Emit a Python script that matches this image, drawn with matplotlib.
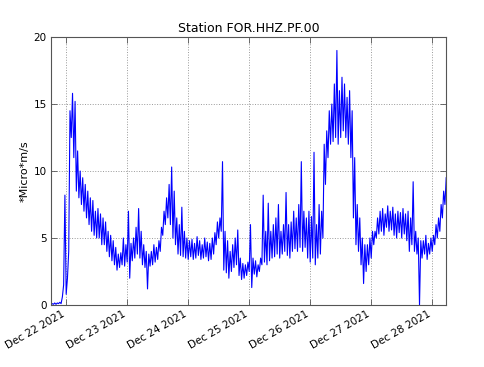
# ════════════════════════════════════════════════════════════
# Station FOR.HHZ.PF.00 — ground velocity noise, Dec 21-28 2021
# ════════════════════════════════════════════════════════════

import datetime as dt
import numpy as np
import matplotlib
matplotlib.use("Agg")
import matplotlib.pyplot as plt
import matplotlib.dates as mdates

# ────────────────────────────────────────────────────────────
# DATA (hourly low / high envelope)
# ────────────────────────────────────────────────────────────

START = dt.datetime(2021, 12, 22, 0, 0)
FIRST_HOUR = -6          # hours relative to Dec 22 00:00

lo = [
    0.0, 0.05, 0.05, 0.1, 0.1, 1.5,                                   # -6 .. -1
    0.8, 4.0, 12.5, 11.0, 8.5, 8.0, 7.5, 7.0, 6.5, 6.0, 5.5, 5.2,     # 0 .. 11
    5.0, 5.0, 4.5, 4.5, 4.0, 3.6, 3.3, 3.0, 2.6, 2.8, 3.0, 2.9,       # 12 .. 23
    3.2, 2.0, 3.3, 3.5, 3.8, 3.5, 3.0, 2.8, 1.2, 2.9, 3.0, 3.2,       # 24 .. 35
    3.4, 4.0, 5.2, 6.0, 6.5, 6.0, 5.0, 4.5, 3.8, 3.7, 3.6, 3.5,       # 36 .. 47
    3.4, 3.6, 3.4, 3.5, 3.7, 3.4, 3.5, 3.6, 3.3, 3.4, 3.8, 4.5,       # 48 .. 59
    5.0, 5.5, 2.6, 2.4, 2.0, 2.5, 2.8, 3.0, 2.2, 1.9, 2.0, 2.2,       # 60 .. 71
    2.5, 1.3, 2.3, 2.1, 2.5, 3.0, 3.2, 3.0, 3.3, 3.5, 3.6, 3.8,       # 72 .. 83
    3.5, 3.8, 4.0, 3.7, 3.5, 4.0, 4.2, 4.0, 4.3, 4.0, 4.3, 3.5,       # 84 .. 95
    3.2, 3.5, 3.0, 3.5, 3.8, 5.0, 9.0, 11.0, 12.0, 12.2, 12.5, 12.0,  # 96 .. 107
    12.5, 13.0, 12.5, 12.0, 11.0, 6.5, 4.5, 4.0, 3.0, 1.6, 2.5, 3.0,  # 108 .. 119
    3.5, 4.5, 5.0, 5.3, 5.5, 5.2, 5.8, 5.5, 5.6, 5.2, 5.0, 5.4,       # 120 .. 131
    5.0, 5.3, 4.8, 4.0, 4.5, 4.0, 3.8, 0.0, 3.5, 3.8, 3.4, 3.8,       # 132 .. 143
    4.0, 4.5, 5.0, 5.5, 6.5, 7.5,                                     # 144 .. 149
]

hi = [
    0.1, 0.15, 0.15, 0.2, 0.6, 8.2,
    2.0, 14.5, 15.8, 15.2, 11.5, 10.0, 9.5, 9.0, 8.5, 8.0, 7.8, 7.0,
    7.2, 6.8, 6.5, 6.2, 5.5, 5.2, 4.8, 4.3, 3.8, 3.9, 5.0, 4.5,
    7.0, 4.6, 5.0, 5.8, 7.2, 5.5, 4.5, 4.0, 3.8, 4.0, 4.5, 4.3,
    4.8, 5.8, 7.0, 8.0, 9.0, 10.3, 8.5, 6.5, 6.0, 7.3, 5.5, 5.0,
    4.8, 4.9, 4.6, 5.1, 4.8, 4.5, 5.0, 4.7, 4.6, 5.0, 5.4, 6.2,
    6.5, 10.7, 5.5, 4.8, 4.0, 4.5, 5.0, 5.6, 3.5, 3.1, 3.0, 3.2,
    6.0, 3.5, 3.3, 3.0, 3.5, 8.2, 5.5, 7.6, 5.5, 6.0, 6.5, 7.5,
    5.5, 6.0, 8.4, 6.0, 6.2, 7.0, 6.5, 7.5, 10.7, 7.0, 6.5, 7.0,
    6.6, 11.4, 6.0, 7.5, 7.0, 12.0, 13.0, 14.5, 15.0, 16.5, 19.0, 16.0,
    17.0, 16.5, 15.5, 16.0, 14.5, 11.0, 7.5, 6.5, 5.0, 4.5, 4.5, 5.0,
    5.5, 5.5, 6.5, 7.0, 7.2, 6.8, 7.4, 7.0, 7.3, 6.8, 7.0, 6.9,
    7.2, 6.8, 7.0, 6.5, 9.2, 5.5, 5.0, 4.8, 4.8, 5.2, 4.6, 5.0,
    5.2, 6.0, 6.5, 7.5, 8.5, 9.5,
]

# ────────────────────────────────────────────────────────────
# BUILD SERIES (low at the hour, high at the half hour)
# ────────────────────────────────────────────────────────────

hours = np.arange(FIRST_HOUR, FIRST_HOUR + len(lo))
t = np.ravel(np.column_stack([hours, hours + 0.5]))
v = np.ravel(np.column_stack([lo, hi]))
times = [START + dt.timedelta(hours=float(h)) for h in t]

# ────────────────────────────────────────────────────────────
# PLOT
# ────────────────────────────────────────────────────────────

fig = plt.figure(figsize=(4.85, 3.67), dpi=100)
ax = fig.add_axes([0.105, 0.169, 0.815, 0.730])

ax.plot(times, v, color="#0000ff", linewidth=0.8)

ax.set_xlim(times[0], times[-1])
ax.set_ylim(0, 20)
ax.set_yticks([0, 5, 10, 15, 20])

ax.xaxis.set_major_locator(mdates.DayLocator())
ax.xaxis.set_major_formatter(mdates.DateFormatter("%b %d %Y"))

for lab in ax.get_xticklabels():
    lab.set_rotation(30)
    lab.set_ha("right")

ax.tick_params(direction="in", top=True, right=True, labelsize=7.5,
               length=4, width=0.6, color="#555555", pad=3)
for s in ax.spines.values():
    s.set_color("#555555")
    s.set_linewidth(0.8)

ax.grid(True, linestyle=":", color="#999999", linewidth=0.7)

ax.set_ylabel("*Micro*m/s", fontsize=8, labelpad=3)
ax.set_title("Station FOR.HHZ.PF.00", fontsize=9, pad=4)

fig.savefig("out.png", dpi=100)
plt.close(fig)
